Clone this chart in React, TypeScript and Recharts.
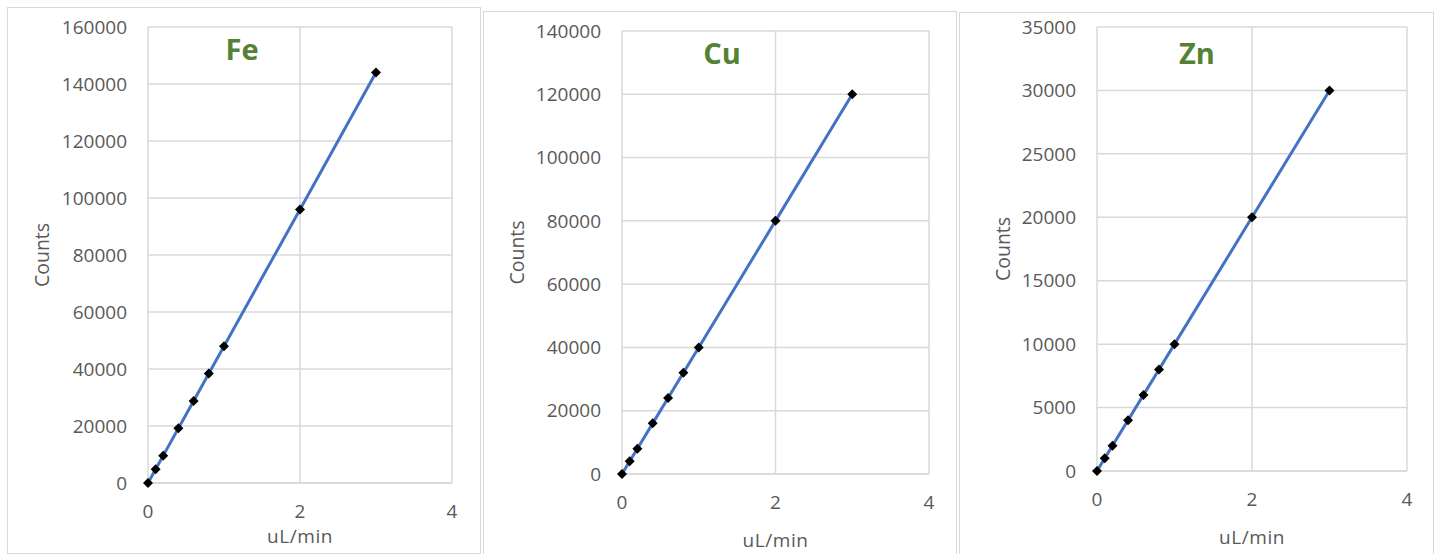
import React from 'react';
import { LineChart, Line, XAxis, YAxis, CartesianGrid } from 'recharts';

const flowRates = [0, 0.1, 0.2, 0.4, 0.6, 0.8, 1, 2, 3];
const feCounts = [0, 4800, 9600, 19200, 28800, 38400, 48000, 96000, 144000];
const cuCounts = [0, 4000, 8000, 16000, 24000, 32000, 40000, 80000, 120000];
const znCounts = [0, 1000, 2000, 4000, 6000, 8000, 10000, 20000, 30000];

const xTicks = [0, 2, 4];
const feTicks = [0, 20000, 40000, 60000, 80000, 100000, 120000, 140000, 160000];
const cuTicks = [0, 20000, 40000, 60000, 80000, 100000, 120000, 140000];
const znTicks = [0, 5000, 10000, 15000, 20000, 25000, 30000, 35000];

const FONT = '"Open Sans", Arial, sans-serif';
const GRID = '#d9d9d9';
const TEXT = '#595959';

const Diamond = (props: any) => {
  const { cx, cy, index } = props;
  if (cx == null || cy == null) return <g key={index} />;
  const r = 5;
  return (
    <path
      key={index}
      d={`M${cx},${cy - r}L${cx + r},${cy}L${cx},${cy + r}L${cx - r},${cy}Z`}
      fill="#000"
    />
  );
};

interface PanelProps {
  title: string;
  counts: number[];
  ticks: number[];
  left: number;
  width: number;
  boxTop: number;
  boxHeight: number;
  margin: { top: number; right: number; bottom: number };
  yAxisWidth: number;
  countsOffset: number;
  xLabelOffset: number;
  titleX: number;
  titleY: number;
}

const Panel: React.FC<PanelProps> = ({ title, counts, ticks, left, width, boxTop, boxHeight, margin, yAxisWidth, countsOffset, xLabelOffset, titleX, titleY }) => {
  const data = flowRates.map((x, i) => ({ x, y: counts[i] }));
  const tick = { fill: TEXT, fontSize: 19, fontFamily: FONT };
  return (
    <>
      <div
        style={{
          position: 'absolute',
          left,
          top: boxTop,
          width: width - 2,
          height: boxHeight,
          border: `1.5px solid ${GRID}`,
          background: '#fff',
        }}
      />
      <div style={{ position: 'absolute', left, top: 0 }}>
        <LineChart width={width} height={554} data={data} margin={{ top: margin.top, right: margin.right, bottom: margin.bottom, left: 0 }}>
          <CartesianGrid stroke={GRID} strokeWidth={1.5} />
          <XAxis
            type="number"
            dataKey="x"
            domain={[0, 4]}
            ticks={xTicks}
            height={30}
            tickLine={false}
            tickMargin={16}
            axisLine={{ stroke: GRID, strokeWidth: 1.5 }}
            tick={tick}
            label={{ value: 'uL/min', position: 'bottom', offset: xLabelOffset, fill: TEXT, fontSize: 19, fontFamily: FONT, letterSpacing: 0.6 }}
          />
          <YAxis
            type="number"
            domain={[0, ticks[ticks.length - 1]]}
            ticks={ticks}
            width={yAxisWidth}
            tickLine={false}
            axisLine={false}
            tickMargin={15}
            tick={tick}
            label={{ value: 'Counts', angle: -90, position: 'insideLeft', offset: countsOffset, fill: TEXT, fontSize: 19.5, fontFamily: FONT, style: { textAnchor: 'middle' } }}
          />
          <Line
            type="linear"
            dataKey="y"
            stroke="#4472C4"
            strokeWidth={3}
            dot={Diamond}
            activeDot={false}
            isAnimationActive={false}
          />
        </LineChart>
      </div>
      <svg style={{ position: 'absolute', left: 0, top: 0, overflow: 'visible' }} width={1} height={1}>
        <text x={titleX} y={titleY} textAnchor="middle" dominantBaseline="central" fill="#538135" fontSize={29} fontWeight="bold" fontFamily={FONT}>
          {title}
        </text>
      </svg>
    </>
  );
};

export default function App() {
  return (
    <div style={{ position: 'absolute', left: 0, top: 0, width: 1442, height: 554, background: '#fff', overflow: 'hidden', fontFamily: FONT }}>
      <Panel
        title="Fe"
        counts={feCounts}
        ticks={feTicks}
        left={7}
        width={474}
        boxTop={7}
        boxHeight={545}
        margin={{ top: 27, right: 29, bottom: 41 }}
        yAxisWidth={141}
        countsOffset={35}
        xLabelOffset={17}
        titleX={242}
        titleY={48}
      />
      <Panel
        title="Cu"
        counts={cuCounts}
        ticks={cuTicks}
        left={483}
        width={474}
        boxTop={11}
        boxHeight={560}
        margin={{ top: 31, right: 28, bottom: 50 }}
        yAxisWidth={139}
        countsOffset={34}
        xLabelOffset={30}
        titleX={722}
        titleY={52}
      />
      <Panel
        title="Zn"
        counts={znCounts}
        ticks={znTicks}
        left={959}
        width={475}
        boxTop={12}
        boxHeight={560}
        margin={{ top: 27, right: 27, bottom: 53 }}
        yAxisWidth={138}
        countsOffset={44}
        xLabelOffset={30}
        titleX={1197}
        titleY={52}
      />
    </div>
  );
}
